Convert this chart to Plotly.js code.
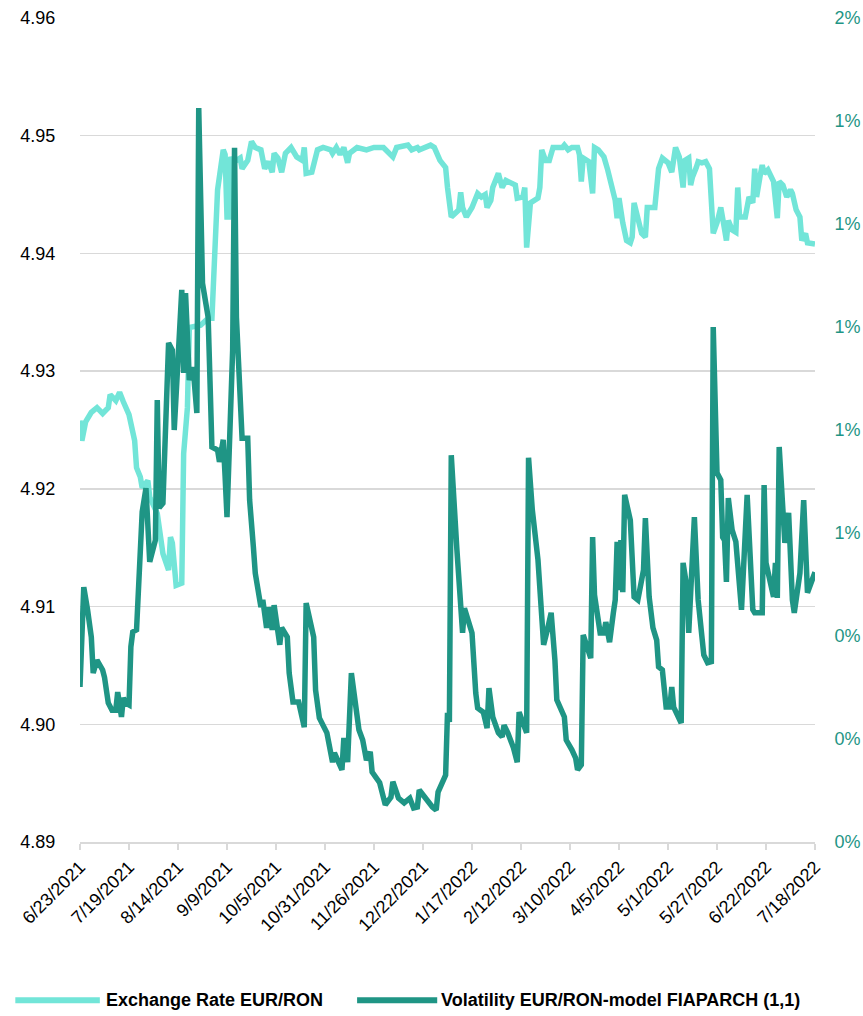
<!DOCTYPE html>
<html>
<head>
<meta charset="utf-8">
<script src="https://cdn.plot.ly/plotly-3.0.1.min.js"></script>
<style>
  html, body { margin: 0; padding: 0; background: #fff; }
  #chart { width: 863px; height: 1016px; }
</style>
</head>
<body>
<div id="chart"></div>
<script>
// Days counted from 23 Jun 2021 (first observation)
const START = '2021-06-23';

// EUR/RON exchange rate
const rateDay = [
  0, 1, 3, 6, 9, 12, 15, 16, 19, 21,
  23, 26, 29, 30, 32, 33, 36, 37, 41, 44,
  47, 48, 49, 51, 54, 55, 57, 58, 64, 68,
  70, 72, 73, 76, 77, 78, 79, 80, 81, 85,
  86, 89, 91, 93, 96, 98, 100, 102, 103, 105,
  107, 109, 112, 115, 118, 119, 120, 123, 126, 129,
  133, 134, 136, 138, 140, 142, 143, 147, 152, 156,
  161, 166, 168, 174, 176, 179, 180, 186, 188, 191,
  194, 195, 197, 199, 201, 202, 203, 205, 208, 211,
  213, 215, 216, 218, 219, 222, 224, 226, 229, 231,
  232, 235, 236, 237, 239, 241, 243, 244, 245, 247,
  249, 251, 253, 256, 257, 259, 261, 264, 265, 266,
  267, 270, 272, 273, 275, 278, 280, 282, 284, 285,
  286, 288, 290, 292, 293, 294, 296, 298, 300, 301,
  305, 306, 307, 309, 312, 314, 315, 316, 318, 320,
  321, 323, 324, 325, 327, 328, 330, 332, 334, 336,
  338, 340, 341, 343, 344, 346, 348, 349, 350, 353,
  355, 357, 358, 359, 361, 362, 363, 365, 368, 370,
  371, 373, 375, 377, 378, 380, 382, 383, 385, 386,
  390
];
const rateValue = [
  4.9258, 4.9241, 4.9257, 4.9265, 4.9269, 4.9264, 4.9269, 4.9280, 4.9275, 4.9282,
  4.9274, 4.9263, 4.9241, 4.9218, 4.9210, 4.9201, 4.9207, 4.9193, 4.9179, 4.9145,
  4.9131, 4.9159, 4.9154, 4.9118, 4.9120, 4.9230, 4.9269, 4.9337, 4.9339, 4.9345,
  4.9345, 4.9411, 4.9454, 4.9488, 4.9484, 4.9431, 4.9431, 4.9482, 4.9477, 4.9481,
  4.9472, 4.9479, 4.9495, 4.9490, 4.9488, 4.9472, 4.9478, 4.9469, 4.9485, 4.9481,
  4.9469, 4.9485, 4.9490, 4.9482, 4.9479, 4.9490, 4.9468, 4.9469, 4.9488, 4.9490,
  4.9488, 4.9485, 4.9490, 4.9484, 4.9490, 4.9477, 4.9485, 4.9490, 4.9488, 4.9490,
  4.9490, 4.9482, 4.9490, 4.9492, 4.9488, 4.9490, 4.9488, 4.9492, 4.9490, 4.9479,
  4.9473, 4.9456, 4.9431, 4.9434, 4.9437, 4.9452, 4.9439, 4.9431, 4.9439, 4.9451,
  4.9448, 4.9450, 4.9439, 4.9445, 4.9456, 4.9468, 4.9456, 4.9462, 4.9459, 4.9458,
  4.9447, 4.9448, 4.9456, 4.9405, 4.9443, 4.9445, 4.9447, 4.9456, 4.9488, 4.9479,
  4.9479, 4.9490, 4.9490, 4.9490, 4.9492, 4.9488, 4.9490, 4.9490, 4.9484, 4.9461,
  4.9481, 4.9478, 4.9451, 4.9490, 4.9488, 4.9482, 4.9471, 4.9460, 4.9445, 4.9430,
  4.9447, 4.9426, 4.9411, 4.9409, 4.9414, 4.9443, 4.9428, 4.9417, 4.9414, 4.9439,
  4.9439, 4.9456, 4.9472, 4.9481, 4.9477, 4.9469, 4.9485, 4.9490, 4.9482, 4.9456,
  4.9479, 4.9481, 4.9458, 4.9465, 4.9473, 4.9478, 4.9477, 4.9478, 4.9472, 4.9417,
  4.9426, 4.9439, 4.9430, 4.9411, 4.9428, 4.9420, 4.9418, 4.9456, 4.9431, 4.9431,
  4.9448, 4.9443, 4.9472, 4.9448, 4.9467, 4.9475, 4.9468, 4.9471, 4.9461, 4.9430,
  4.9461, 4.9458, 4.9448, 4.9454, 4.9451, 4.9437, 4.9431, 4.9411, 4.9417, 4.9409,
  4.9408
];

// FIAPARCH(1,1) conditional volatility, in percent
const volDay = [
  0, 2, 4, 6, 7, 9, 12, 13, 15, 17,
  19, 20, 22, 23, 24, 26, 27, 28, 30, 33,
  35, 37, 40, 41, 42, 44, 47, 49, 50, 54,
  55, 56, 58, 60, 62, 63, 65, 68, 70, 73,
  74, 76, 77, 78, 81, 82, 83, 86, 89, 90,
  92, 93, 96, 97, 99, 100, 102, 103, 106, 107,
  110, 111, 113, 116, 119, 120, 124, 125, 127, 131,
  134, 135, 139, 140, 142, 144, 148, 150, 152, 154,
  155, 159, 162, 165, 166, 169, 172, 175, 177, 179,
  180, 183, 187, 189, 190, 194, 195, 196, 197, 200,
  203, 204, 208, 210, 211, 214, 216, 217, 219, 222,
  224, 225, 227, 230, 232, 233, 234, 237, 238, 240,
  243, 245, 246, 248, 250, 252, 253, 257, 258, 261,
  263, 264, 266, 267, 270, 271, 272, 273, 276, 278,
  279, 281, 283, 284, 285, 286, 287, 288, 289, 291,
  292, 294, 296, 299, 300, 302, 304, 306, 307, 309,
  310, 311, 313, 314, 315, 319, 320, 322, 323, 325,
  326, 328, 330, 331, 333, 335, 336, 338, 340, 341,
  342, 343, 344, 346, 348, 350, 351, 354, 357, 358,
  362, 363, 364, 368, 369, 370, 371, 374, 376, 378,
  379, 382, 384, 386, 390
];
const volPct = [
  0.301, 0.495, 0.451, 0.398, 0.328, 0.353, 0.334, 0.320, 0.270, 0.256,
  0.256, 0.291, 0.243, 0.280, 0.270, 0.266, 0.379, 0.408, 0.412, 0.641,
  0.687, 0.544, 0.586, 0.858, 0.649, 0.658, 0.969, 0.955, 0.800, 1.072,
  0.911, 1.066, 0.897, 0.922, 0.833, 1.425, 1.085, 1.019, 0.767, 0.761,
  0.738, 0.781, 0.709, 0.631, 0.955, 1.348, 1.019, 0.784, 0.784, 0.664,
  0.573, 0.522, 0.456, 0.470, 0.416, 0.456, 0.412, 0.460, 0.383, 0.416,
  0.398, 0.328, 0.272, 0.272, 0.223, 0.464, 0.398, 0.295, 0.241, 0.212,
  0.155, 0.173, 0.140, 0.202, 0.155, 0.328, 0.218, 0.198, 0.159, 0.175,
  0.136, 0.115, 0.072, 0.087, 0.117, 0.085, 0.076, 0.085, 0.066, 0.068,
  0.101, 0.085, 0.068, 0.062, 0.097, 0.130, 0.251, 0.233, 0.751, 0.567,
  0.406, 0.454, 0.406, 0.289, 0.260, 0.252, 0.221, 0.299, 0.243, 0.212,
  0.204, 0.227, 0.212, 0.183, 0.155, 0.252, 0.243, 0.212, 0.746, 0.645,
  0.548, 0.406, 0.383, 0.412, 0.445, 0.353, 0.276, 0.243, 0.198, 0.179,
  0.163, 0.140, 0.150, 0.402, 0.369, 0.357, 0.592, 0.480, 0.406, 0.406,
  0.427, 0.388, 0.445, 0.470, 0.583, 0.489, 0.586, 0.485, 0.674, 0.631,
  0.625, 0.476, 0.470, 0.528, 0.629, 0.476, 0.416, 0.392, 0.340, 0.334,
  0.282, 0.262, 0.262, 0.301, 0.262, 0.231, 0.542, 0.495, 0.406, 0.600,
  0.631, 0.470, 0.386, 0.363, 0.348, 0.350, 1.000, 0.717, 0.703, 0.592,
  0.586, 0.505, 0.668, 0.606, 0.583, 0.509, 0.451, 0.674, 0.451, 0.445,
  0.445, 0.693, 0.542, 0.476, 0.542, 0.474, 0.767, 0.581, 0.639, 0.470,
  0.445, 0.522, 0.664, 0.484, 0.524
];

const seriesNames = ['Exchange Rate EUR/RON', 'Volatility EUR/RON-model FIAPARCH (1,1)'];
const rateColor = '#72E5D8';
const volColor = '#1F9585';

const DAY_MS = 86400000;
const startMs = Date.parse(START + 'T00:00:00Z');
const toDate = d => new Date(startMs + d * DAY_MS).toISOString().slice(0, 10);

const traces = [
  {
    x: rateDay.map(toDate), y: rateValue, name: seriesNames[0],
    type: 'scatter', mode: 'lines', yaxis: 'y',
    line: { color: rateColor, width: 5.5 }, showlegend: false
  },
  {
    x: volDay.map(toDate), y: volPct, name: seriesNames[1],
    type: 'scatter', mode: 'lines', yaxis: 'y2',
    line: { color: volColor, width: 5.5 }, showlegend: false
  }
];

const font = 'Liberation Sans, Arial, sans-serif';
const gridColor = '#D9D9D9';

// Bottom key: swatch line + label for each series (paper coordinates)
const legendY = -0.192;
const shapes = [
  { type: 'line', xref: 'paper', yref: 'paper', x0: -0.088, x1: 0.027, y0: legendY, y1: legendY,
    line: { color: rateColor, width: 6 } },
  { type: 'line', xref: 'paper', yref: 'paper', x0: 0.377, x1: 0.486, y0: legendY, y1: legendY,
    line: { color: volColor, width: 6 } }
];
const annotations = [
  { xref: 'paper', yref: 'paper', x: 0.033, y: legendY, xanchor: 'left', yanchor: 'middle',
    text: '<b>' + seriesNames[0] + '</b>', showarrow: false,
    font: { family: font, size: 18, color: '#000' } },
  { xref: 'paper', yref: 'paper', x: 0.489, y: legendY, xanchor: 'left', yanchor: 'middle',
    text: '<b>' + seriesNames[1] + '</b>', showarrow: false,
    font: { family: font, size: 18, color: '#000' } }
];

const layout = {
  width: 863, height: 1016,
  margin: { l: 80, r: 48, t: 18, b: 174 },
  paper_bgcolor: '#fff', plot_bgcolor: '#fff',
  font: { family: font, size: 18, color: '#000' },
  xaxis: {
    type: 'date',
    range: [START, '2022-07-18'],
    tick0: START, dtick: 26 * DAY_MS,
    tickformat: '%-m/%-d/%Y', tickangle: -45,
    tickfont: { family: font, size: 18, color: '#000' },
    ticks: 'outside', ticklen: 6, tickwidth: 1.5, tickcolor: gridColor,
    showline: true, linecolor: gridColor, linewidth: 1.5,
    showgrid: false, zeroline: false, automargin: false
  },
  yaxis: {
    range: [4.89, 4.96], dtick: 0.01, tick0: 4.89, tickformat: '.2f',
    tickfont: { family: font, size: 18, color: '#000' },
    ticks: 'outside', ticklen: 20, tickcolor: 'rgba(0,0,0,0)',
    showgrid: true, gridcolor: gridColor, gridwidth: 1.5,
    zeroline: false, showline: false, automargin: false
  },
  yaxis2: {
    overlaying: 'y', side: 'right',
    range: [0, 1.6], dtick: 0.2, tick0: 0, tickformat: '.0f', ticksuffix: '%',
    tickfont: { family: font, size: 18, color: volColor },
    ticks: 'outside', ticklen: 15, tickcolor: 'rgba(0,0,0,0)',
    showgrid: false, zeroline: false, showline: false, automargin: false
  },
  shapes: shapes,
  annotations: annotations,
  showlegend: false
};

Plotly.newPlot('chart', traces, layout, { staticPlot: true, displayModeBar: false });
</script>
</body>
</html>
